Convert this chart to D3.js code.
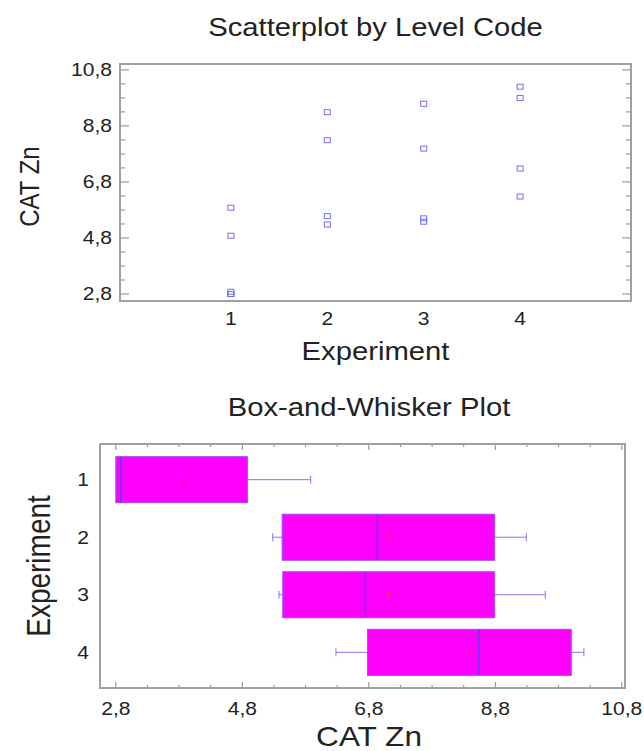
<!DOCTYPE html>
<html>
<head>
<meta charset="utf-8">
<script src="https://cdn.jsdelivr.net/npm/d3@7"></script>
<style>
  body { margin: 0; background: #fff; }
  svg text { font-family: "Liberation Sans", Arial, sans-serif; fill: #222; }
</style>
</head>
<body>
<div id="chart"></div>
<script>
'use strict';

// values
const experiments = [1, 2, 3, 4];
const catZn1 = [2.8, 2.8, 2.88, 4.88, 5.88];
const catZn2 = [5.28, 5.58, 8.29, 9.29];
const catZn3 = [5.38, 5.5, 7.99, 9.59];
const catZn4 = [6.28, 7.28, 9.8, 10.2];
const catZnTicks = [2.8, 4.8, 6.8, 8.8, 10.8];
const catZnTickLabels = ["2,8", "4,8", "6,8", "8,8", "10,8"];
const expTickLabels = ["1", "2", "3", "4"];

(function() {

const groups = [catZn1, catZn2, catZn3, catZn4];

const W = 644, H = 751;
const frameColor = "#a0a0a0";
const tickColor = "#888";
const pointColor = "#6f6ff2";
// the source picture is a little wider than tall, so text is stretched sideways
const SX = 1.17;

const svg = d3.select("#chart").append("svg")
    .attr("width", W)
    .attr("height", H);

function place(x, y) {
    return "translate(" + x + "," + y + ") scale(" + SX + ",1)";
}
function placeV(x, y) {
    return "translate(" + x + "," + y + ") rotate(-90) scale(1," + SX + ")";
}

// minor ticks every 0.5 inside the domain
function minorTicks(domain) {
    let out = [];
    for (let v = 2.8 - 0.5; v <= domain[1] + 1e-9; v += 0.5) {
        if (v >= domain[0]) out.push(+v.toFixed(2));
    }
    return out.filter(v => catZnTicks.indexOf(v) < 0);
}

// ---------- Scatterplot ----------
const sc = { left: 120, right: 631, top: 64, bottom: 301 };

const x1 = d3.scaleLinear().domain([-0.15, 5.15]).range([sc.left, sc.right]);
const y1 = d3.scaleLinear().domain([2.55, 11.01]).range([sc.bottom, sc.top]);

svg.append("text")
    .attr("transform", place((sc.left + sc.right) / 2, 36))
    .attr("text-anchor", "middle")
    .style("font-size", "25px")
    .text("Scatterplot by Level Code");

const g1 = svg.append("g");

// y ticks, left and right, pointing inward
let yMinor = minorTicks(y1.domain());
[[sc.left, 1], [sc.right, -1]].forEach(function(side) {
    g1.selectAll(null).data(catZnTicks).enter().append("line")
        .attr("x1", side[0]).attr("x2", side[0] + side[1] * 9)
        .attr("y1", d => y1(d)).attr("y2", d => y1(d))
        .attr("stroke", tickColor).attr("stroke-width", 1);
    g1.selectAll(null).data(yMinor).enter().append("line")
        .attr("x1", side[0]).attr("x2", side[0] + side[1] * 5)
        .attr("y1", d => y1(d)).attr("y2", d => y1(d))
        .attr("stroke", tickColor).attr("stroke-width", 1);
});

g1.selectAll(null).data(catZnTicks).enter().append("text")
    .attr("transform", d => place(sc.left - 8, y1(d)))
    .attr("dy", "0.36em")
    .attr("text-anchor", "end")
    .style("font-size", "18px")
    .text((d, i) => catZnTickLabels[i]);

g1.selectAll(null).data(experiments).enter().append("text")
    .attr("transform", d => place(x1(d), 325))
    .attr("text-anchor", "middle")
    .style("font-size", "18px")
    .text((d, i) => expTickLabels[i]);

// points
groups.forEach(function(vals, i) {
    g1.selectAll(null).data(vals).enter().append("rect")
        .attr("x", x1(experiments[i]) - 3)
        .attr("y", d => y1(d) - 2.5)
        .attr("width", 6)
        .attr("height", 5)
        .attr("fill", "none")
        .attr("stroke", pointColor)
        .attr("stroke-width", 1);
});

g1.append("rect")
    .attr("x", sc.left).attr("y", sc.top)
    .attr("width", sc.right - sc.left).attr("height", sc.bottom - sc.top)
    .attr("fill", "none").attr("stroke", frameColor).attr("stroke-width", 2);

svg.append("text")
    .attr("transform", place((sc.left + sc.right) / 2, 360))
    .attr("text-anchor", "middle")
    .style("font-size", "25px")
    .text("Experiment");

svg.append("text")
    .attr("transform", placeV(39, (sc.top + sc.bottom) / 2 + 4))
    .attr("text-anchor", "middle")
    .style("font-size", "24px")
    .text("CAT Zn");

// ---------- Box-and-Whisker ----------
const bx = { left: 100, right: 625, top: 444, bottom: 688 };

const x2 = d3.scaleLinear().domain([2.55, 10.85]).range([bx.left, bx.right]);
const y2 = d3.scalePoint().domain(experiments).range([bx.top, bx.bottom]).padding(0.62);
const boxH = y2.step() * 0.8;

svg.append("text")
    .attr("transform", place(369, 416))
    .attr("text-anchor", "middle")
    .style("font-size", "25px")
    .text("Box-and-Whisker Plot");

const g2 = svg.append("g");

let xMinor = minorTicks(x2.domain());
[[bx.bottom, -1], [bx.top, 1]].forEach(function(side) {
    g2.selectAll(null).data(catZnTicks).enter().append("line")
        .attr("x1", d => x2(d)).attr("x2", d => x2(d))
        .attr("y1", side[0]).attr("y2", side[0] + side[1] * 6)
        .attr("stroke", tickColor).attr("stroke-width", 1);
    g2.selectAll(null).data(xMinor).enter().append("line")
        .attr("x1", d => x2(d)).attr("x2", d => x2(d))
        .attr("y1", side[0]).attr("y2", side[0] + side[1] * 3)
        .attr("stroke", tickColor).attr("stroke-width", 1);
});

g2.selectAll(null).data(catZnTicks).enter().append("text")
    .attr("transform", d => place(x2(d), 715))
    .attr("text-anchor", "middle")
    .style("font-size", "18px")
    .text((d, i) => catZnTickLabels[i]);

g2.selectAll(null).data(experiments).enter().append("text")
    .attr("transform", d => place(bx.left - 11, y2(d)))
    .attr("dy", "0.36em")
    .attr("text-anchor", "end")
    .style("font-size", "18px")
    .text((d, i) => expTickLabels[i]);

// stats with Tukey hinges
let stats = groups.map(function(vals, i) {
    let s = vals.slice().sort(d3.ascending);
    let half = Math.ceil(s.length / 2);
    return {
        exp: experiments[i],
        min: s[0],
        q1: d3.median(s.slice(0, half)),
        med: d3.median(s),
        q3: d3.median(s.slice(s.length - half)),
        max: s[s.length - 1],
        mean: d3.mean(s)
    };
});

const whiskerColor = "#7c7cf4";
let box = g2.selectAll(".box").data(stats).enter().append("g").attr("class", "box");

box.append("line")
    .attr("x1", d => x2(d.min)).attr("x2", d => x2(d.q1))
    .attr("y1", d => y2(d.exp)).attr("y2", d => y2(d.exp))
    .attr("stroke", whiskerColor).attr("stroke-width", 1);
box.append("line")
    .attr("x1", d => x2(d.q3)).attr("x2", d => x2(d.max))
    .attr("y1", d => y2(d.exp)).attr("y2", d => y2(d.exp))
    .attr("stroke", whiskerColor).attr("stroke-width", 1);
box.filter(d => d.min < d.q1).append("line")
    .attr("x1", d => x2(d.min)).attr("x2", d => x2(d.min))
    .attr("y1", d => y2(d.exp) - 4).attr("y2", d => y2(d.exp) + 4)
    .attr("stroke", whiskerColor).attr("stroke-width", 1);
box.append("line")
    .attr("x1", d => x2(d.max)).attr("x2", d => x2(d.max))
    .attr("y1", d => y2(d.exp) - 4).attr("y2", d => y2(d.exp) + 4)
    .attr("stroke", whiskerColor).attr("stroke-width", 1);

box.append("rect")
    .attr("x", d => x2(d.q1))
    .attr("y", d => y2(d.exp) - boxH / 2)
    .attr("width", d => x2(d.q3) - x2(d.q1))
    .attr("height", boxH)
    .attr("fill", "#ff00ff")
    .attr("stroke", "#9a4cf8")
    .attr("stroke-width", 1);

box.append("line")
    .attr("x1", d => x2(d.med)).attr("x2", d => x2(d.med))
    .attr("y1", d => y2(d.exp) - boxH / 2).attr("y2", d => y2(d.exp) + boxH / 2)
    .attr("stroke", "#6a3af0").attr("stroke-width", 1.5);

// mean marker
box.append("path")
    .attr("d", d => "M" + (x2(d.mean) - 2.5) + "," + y2(d.exp) + "h5M" + x2(d.mean) + "," + (y2(d.exp) - 2.5) + "v5")
    .attr("stroke", "#f0306a").attr("stroke-width", 1);

g2.append("rect")
    .attr("x", bx.left).attr("y", bx.top)
    .attr("width", bx.right - bx.left).attr("height", bx.bottom - bx.top)
    .attr("fill", "none").attr("stroke", frameColor).attr("stroke-width", 2);

svg.append("text")
    .attr("transform", place(369, 746))
    .attr("text-anchor", "middle")
    .style("font-size", "27px")
    .text("CAT Zn");

svg.append("text")
    .attr("transform", placeV(50, (bx.top + bx.bottom) / 2))
    .attr("text-anchor", "middle")
    .style("font-size", "28px")
    .text("Experiment");

})();
</script>
</body>
</html>
